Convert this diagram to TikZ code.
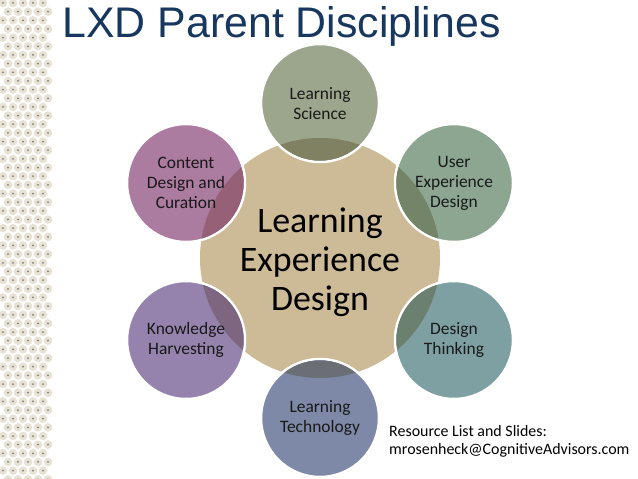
\documentclass[tikz,border=0pt]{standalone}
\usepackage{fontspec}
\setmainfont{Carlito}
\newfontfamily\titlefont{Liberation Sans}
\definecolor{tanc}{RGB}{205,187,152}
\definecolor{lsc}{RGB}{156,166,140}
\definecolor{lso}{RGB}{128,128,98}
\definecolor{uxc}{RGB}{141,166,146}
\definecolor{uxo}{RGB}{116,132,104}
\definecolor{dtc}{RGB}{126,160,162}
\definecolor{dto}{RGB}{108,128,112}
\definecolor{ltc}{RGB}{125,137,166}
\definecolor{lto}{RGB}{108,110,118}
\definecolor{khc}{RGB}{149,131,173}
\definecolor{kho}{RGB}{126,102,128}
\definecolor{cdc}{RGB}{172,123,160}
\definecolor{cdo}{RGB}{150,96,118}
\definecolor{titlec}{RGB}{23,55,94}
\definecolor{ringc}{RGB}{232,226,212}
\definecolor{corec}{RGB}{125,125,125}
\begin{document}
\begin{tikzpicture}[x=1bp,y=-1bp]
 \tikzset{hub/.style={circle, fill=tanc, minimum size=240bp, inner sep=0pt}}
 \tikzset{petal/.style={circle, draw=white, line width=2.5bp, minimum size=118bp, inner sep=0pt}}
 \tikzset{petaltext/.style={align=center, text=black!90, font=\fontsize{17.5}{20}\selectfont}}
  \useasboundingbox (0,0) rectangle (638,479);
  \fill[white] (0,0) rectangle (638,479);
  % dotted strip on the left
  \foreach \r in {0,...,55}{
    \foreach \c in {0,...,4}{
      \pgfmathsetmacro\dx{3+10*\c+5*mod(\r,2)}
      \pgfmathsetmacro\dy{3+8.66*\r}
      \fill[ringc] (\dx,\dy) circle (4.3);
      \fill[corec] (\dx,\dy) circle (1);
    }
  }
  \node[anchor=base west, text=titlec, font=\titlefont\fontsize{43}{50}\selectfont] (title) at (59,38) {LXD Parent Disciplines};
  \node[hub] (LXD) at (320,258) {};
  \node[petal, fill=lsc] (LS) at (320,103) {};
  \node[petal, fill=uxc] (UX) at (454,183) {};
  \node[petal, fill=dtc] (DT) at (454,340) {};
  \node[petal, fill=ltc] (LT) at (320,418) {};
  \node[petal, fill=khc] (KH) at (186,340) {};
  \node[petal, fill=cdc] (CD) at (186,183) {};
  % overlaps with the hub
  \begin{scope}
    \clip (LXD.center) circle (120);
    \fill[lso] (LS.center) circle (57.7);
    \fill[uxo] (UX.center) circle (57.7);
    \fill[dto] (DT.center) circle (57.7);
    \fill[lto] (LT.center) circle (57.7);
    \fill[kho] (KH.center) circle (57.7);
    \fill[cdo] (CD.center) circle (57.7);
  \end{scope}
  \node[align=center, font=\fontsize{36}{39}\selectfont] (LXDtxt) at (320,262) {Learning\\Experience\\Design};
  \node[petaltext] (LStxt) at (320,104) {Learning\\Science};
  \node[petaltext] (UXtxt) at (454,183) {User\\Experience\\Design};
  \node[petaltext] (DTtxt) at (454,340) {Design\\Thinking};
  \node[petaltext] (LTtxt) at (320,418) {Learning\\Technology};
  \node[petaltext] (KHtxt) at (186,340) {Knowledge\\Harvesting};
  \node[petaltext] (CDtxt) at (186,183) {Content\\Design and\\Curation};
  \node[anchor=north west, align=left, inner sep=0pt, font=\fontsize{16}{18}\selectfont] (res) at (389,425) {Resource List and Slides:\\mrosenheck@CognitiveAdvisors.com};
\end{tikzpicture}
\end{document}
